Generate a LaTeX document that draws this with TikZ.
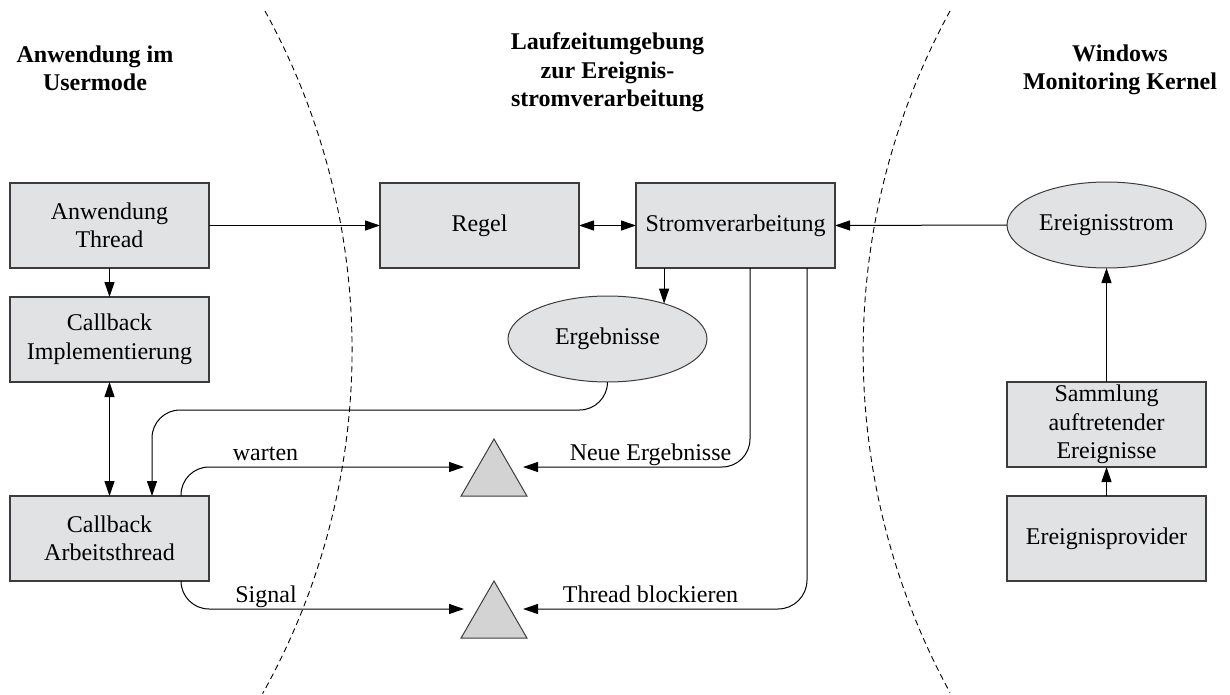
\documentclass[tikz,border=0pt]{standalone}
\usepackage{fontspec}
\setmainfont{Liberation Serif}
\usetikzlibrary{arrows.meta,shapes.geometric,calc}
\definecolor{boxfill}{RGB}{225,226,228}
\definecolor{trifill}{RGB}{211,211,211}
\definecolor{edgegray}{RGB}{60,60,60}
\begin{document}
\begin{tikzpicture}[x=1pt,y=-1pt,
  every node/.style={font=\fontsize{24}{28.5}\selectfont, inner sep=0pt, outer sep=0pt},
  blockbox/.style={draw=edgegray, line width=1.1pt, fill=boxfill,
    minimum width=199pt, minimum height=85pt, align=center},
  blob/.style={ellipse, draw=edgegray, line width=1pt, fill=boxfill,
    minimum width=199pt, minimum height=86pt},
  gate/.style={regular polygon, regular polygon sides=3, draw=edgegray,
    line width=1pt, fill=trifill, minimum size=76pt},
  heading/.style={font=\fontsize{24}{28.5}\selectfont\bfseries, align=center, anchor=base},
  tag/.style={anchor=base},
  flow/.style={line width=1pt, -{Triangle[length=15pt,width=10pt]}},
  flowboth/.style={line width=1pt,
    {Triangle[length=15pt,width=10pt]}-{Triangle[length=15pt,width=10pt]}},
  zone/.style={line width=0.9pt, dash pattern=on 6pt off 4pt}
]
\useasboundingbox (0,0) rectangle (1230,695);

% zone boundaries
\draw[zone] (265,11) arc[start angle=-28.8, end angle=29.2, radius=704];
\draw[zone] (950,11) arc[start angle=208.6, end angle=151.4, radius=712];

% headings (anchored at the baseline of their last line)
\node[heading] (h1) at (95,91) {Anwendung im\\Usermode};
\node[heading] (h2) at (607.5,107) {Laufzeitumgebung\\zur Ereignis-\\stromverarbeitung};
\node[heading] (h3) at (1120,90) {Windows\\Monitoring Kernel};

% user mode
\node[blockbox] (at) at (109.5,225.5) {Anwendung\\Thread};
\node[blockbox] (ci) at (109.5,339.5) {Callback\\Implementierung};
\node[blockbox] (ca) at (109.5,538.5) {Callback\\Arbeitsthread};

% runtime
\node[blockbox] (regel) at (479.5,225.5) {Regel};
\node[blockbox] (strom) at (735.5,225.5) {Stromverarbeitung};
\node[blob] (erg) at (607.5,339) {Ergebnisse};
\node[gate] (t1) at (494,477) {};
\node[gate] (t2) at (494,619) {};

% kernel
\node[blob] (es) at (1106.5,225) {Ereignisstrom};
\node[blockbox] (sa) at (1106.5,424.5) {Sammlung\\auftretender\\Ereignisse};
\node[blockbox] (ep) at (1106.5,538.5) {Ereignisprovider};

% connectors
\draw[flow] (at.east) -- (regel.west);
\draw[flowboth] (regel.east) -- (strom.west);
\draw[flow] (es.west) -- (strom.east);
\draw[flow] (at.south) -- (ci.north);
\draw[flowboth] (ci.south) -- (ca.north);
\draw[flow] (erg.32 |- strom.south) -- (erg.32);
\draw[flow] (sa.north) -- (es.south);
\draw[flow] (ep.north) -- (sa.south);

\draw[flow, rounded corners=28pt] (erg.south) -- ++(0,28) -| ([xshift=42.5pt]ca.north);
\draw[flow, rounded corners=28pt] ([xshift=71.5pt]ca.north) |- ([xshift=-30pt,yshift=10pt]t1.center);
\draw[flow, rounded corners=28pt] ([xshift=71.5pt]ca.south) |- ([xshift=-30pt,yshift=10pt]t2.center);
\draw[flow, rounded corners=28pt] ([xshift=14.5pt]strom.south) |- ([xshift=29pt,yshift=10pt]t1.center);
\draw[flow, rounded corners=29pt] ([xshift=71.5pt]strom.south) |- ([xshift=29pt,yshift=10pt]t2.center);

% connector labels
\node[tag] (lw) at (265.5,460) {warten};
\node[tag] (ls) at (266,602) {Signal};
\node[tag] (ln) at (650.5,460) {Neue Ergebnisse};
\node[tag] (lt) at (650.5,602) {Thread blockieren};
\end{tikzpicture}
\end{document}
